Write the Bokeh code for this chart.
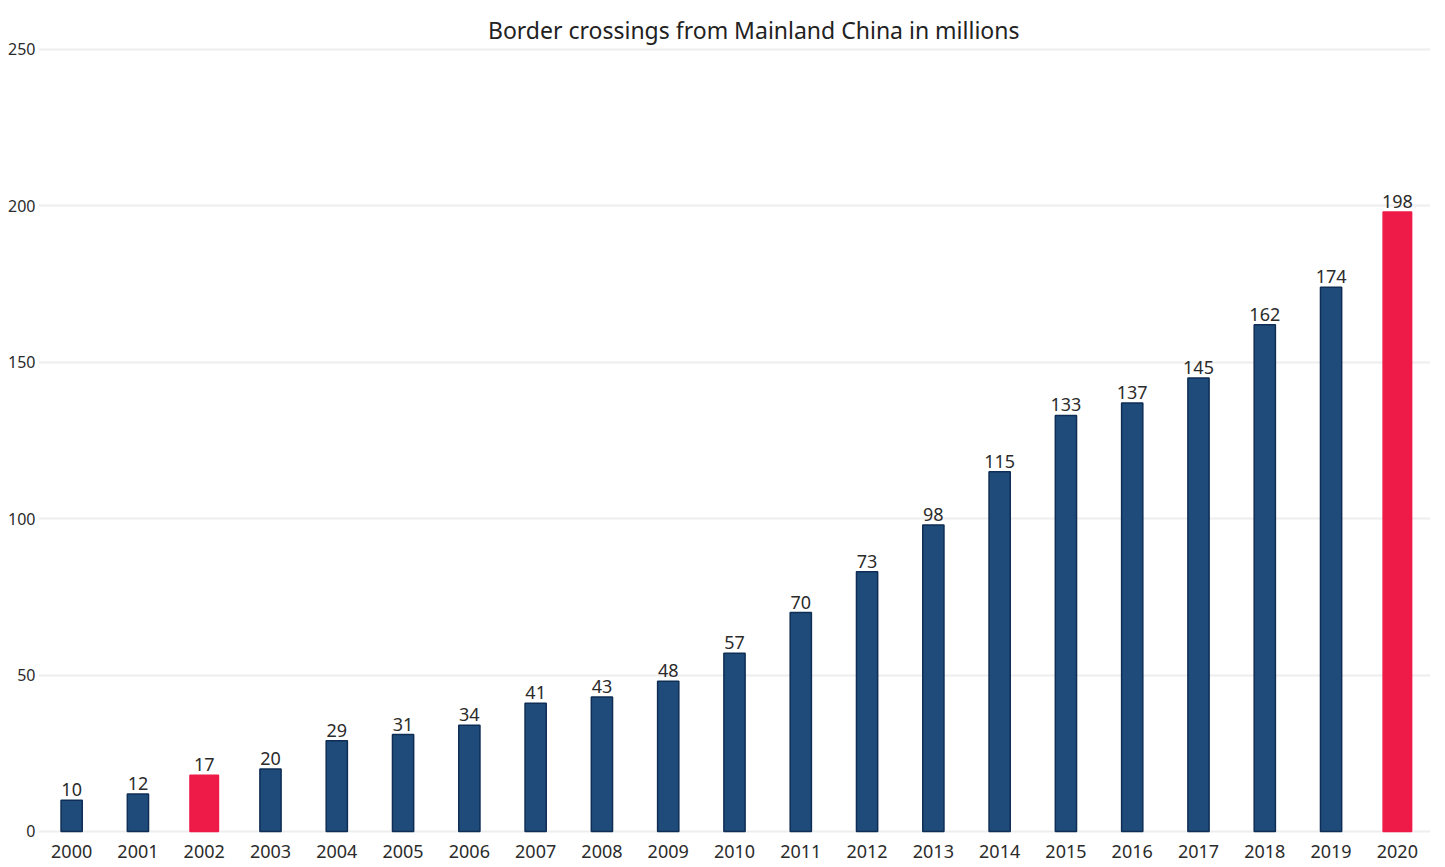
from bokeh.plotting import figure
from bokeh.models import ColumnDataSource, FixedTicker, Label, Range1d
from bokeh.core.properties import value
from bokeh.embed import file_html
from bokeh.resources import INLINE

years = [str(y) for y in range(2000, 2021)]
values = [10, 12, 18, 20, 29, 31, 34, 41, 43, 48, 57, 70, 83, 98, 115, 133, 137, 145, 162, 174, 198]
labels = ["10", "12", "17", "20", "29", "31", "34", "41", "43", "48", "57", "70", "73", "98",
          "115", "133", "137", "145", "162", "174", "198"]
highlight = ["2002", "2020"]
y_ticks = [0, 50, 100, 150, 200, 250]
title_text = "Border crossings from Mainland China in millions"

NAVY = "#1f4b7a"
NAVY_EDGE = "#0e2e55"
RED = "#ee1a47"
FONT = "Noto Sans"
TXT = "#2b2b2b"

colors = [RED if y in highlight else NAVY for y in years]
edges = [RED if y in highlight else NAVY_EDGE for y in years]
widths = [0.43 if y in highlight else 0.32 for y in years]
zeros = [0] * len(years)

src = ColumnDataSource(dict(x=years, top=values, label=labels, color=colors, edge=edges, w=widths, z=zeros))

p = figure(x_range=years, width=1437, height=864, output_backend="svg", toolbar_location=None,
           min_border_left=38, min_border_right=7, min_border_top=12, min_border_bottom=0)
p.y_range = Range1d(-10.55, 261.8)

p.vbar(x="x", top="top", width="w", source=src, fill_color="color", line_color="edge", line_width=1.5)
p.text(x="x", y="top", text="label", source=src, text_align="center", text_baseline="bottom",
       y_offset=-4, text_font=value(FONT), text_font_size="18px", text_color=TXT)
p.text(x="x", y="z", text="x", source=src, text_align="center", text_baseline="middle",
       y_offset=20, text_font=value(FONT), text_font_size="18px", text_color=TXT)

p.add_layout(Label(x=10.79, y=256.1, text=title_text, text_align="center", text_baseline="middle",
                   text_font=FONT, text_font_size="23px", text_color="#222222"))

p.outline_line_color = None
p.xgrid.grid_line_color = None
p.ygrid.grid_line_color = "#eeeeee"
p.ygrid.grid_line_width = 2
p.yaxis.ticker = FixedTicker(ticks=y_ticks)
p.xaxis.visible = False

p.yaxis.axis_line_color = None
p.yaxis.major_tick_line_color = None
p.yaxis.minor_tick_line_color = None
p.yaxis.major_tick_out = 0
p.yaxis.major_tick_in = 0
p.yaxis.major_label_text_font = FONT
p.yaxis.major_label_text_color = TXT
p.yaxis.major_label_text_font_size = "16px"
p.yaxis.major_label_standoff = 3

open("out.html", "w").write(file_html(p, INLINE))
